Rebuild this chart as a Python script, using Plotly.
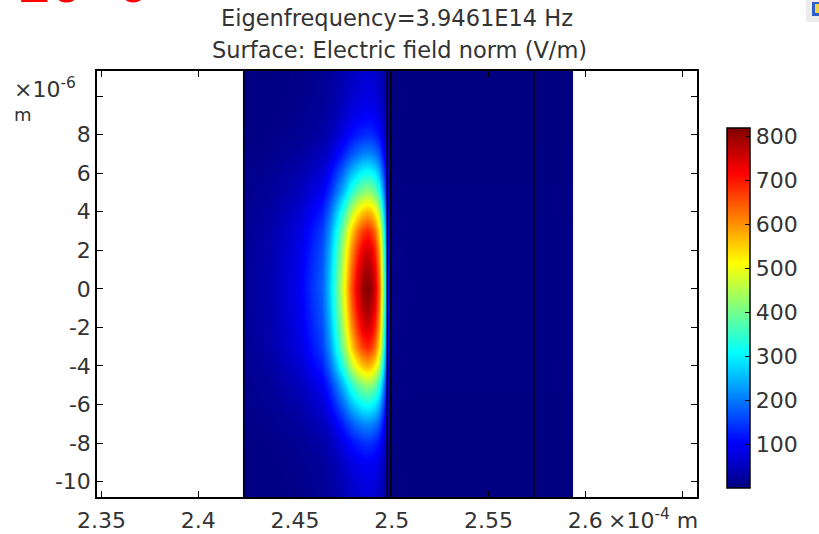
import plotly.graph_objects as go
import numpy as np

# ---- data ----
# electric field norm along x at y = 0 (x in units of 1e-4 m, E in V/m)
x_pos = [2.4233, 2.4236, 2.4368, 2.4522, 2.4641, 2.4677, 2.4713, 2.4744, 2.4764,
         2.4790, 2.4816, 2.4847, 2.4873, 2.4893, 2.4913, 2.4934, 2.4949, 2.4965,
         2.4981, 2.4991, 2.5100, 2.5932, 2.5935]
e_x = [16, 18, 38, 90, 180, 260, 370, 470, 550,
       650, 725, 795, 820, 800, 745, 640, 480, 300,
       120, 8, 6, 6, 6]
# relative field profile along y (y in units of 1e-6 m)
y_pos = [-10.8, -10, -9, -8, -7, -6, -5, -4, -3, -2, -1, 0,
         1, 2, 3, 4, 5, 6, 7, 8, 9, 10, 11.3]
rel_y = [0.085, 0.095, 0.12, 0.17, 0.26, 0.39, 0.52, 0.70, 0.84, 0.92, 0.97, 1.0,
         0.97, 0.92, 0.84, 0.70, 0.52, 0.39, 0.26, 0.17, 0.12, 0.095, 0.08]
# domain boundaries (x in 1e-4 m)
boundaries = [2.4235, 2.4977, 2.4995, 2.5734]

x_ticks = [2.35, 2.4, 2.45, 2.5, 2.55, 2.6, 2.65]
x_ticktext = ["2.35", "2.4", "2.45", "2.5", "2.55", "2.6", " "]
y_ticks = [-10, -8, -6, -4, -2, 0, 2, 4, 6, 8, 10]
y_ticktext = ["-10", "-8", "-6", "-4", "-2", "0", "2", "4", "6", "8", " "]
cb_ticks = [100, 200, 300, 400, 500, 600, 700, 800]

title1 = "Eigenfrequency=3.9461E14 Hz"
title2 = "Surface: Electric field norm (V/m)"

z = np.outer(np.array(rel_y), np.array(e_x))

jet = [[0.0, "rgb(0,0,128)"], [0.125, "rgb(0,0,255)"], [0.375, "rgb(0,255,255)"],
       [0.625, "rgb(255,255,0)"], [0.875, "rgb(255,0,0)"], [1.0, "rgb(128,0,0)"]]

FONT = "DejaVu Sans"
TXT = "#333333"
W, H = 819, 534
L, R, T, B = 97, 122, 71, 37
PW, PH = W - L - R, H - T - B

def px(xp):
    return (xp - L) / PW

def py(yp):
    return (H - B - yp) / PH

fig = go.Figure()
fig.add_trace(go.Heatmap(
    x=x_pos, y=y_pos, z=z, zsmooth="best", colorscale=jet, zmin=0, zmax=820,
    colorbar=dict(
        x=px(727), xanchor="left", thickness=23, thicknessmode="pixels",
        len=360, lenmode="pixels", y=py(308), yanchor="middle",
        outlinewidth=1.5, outlinecolor="black", xpad=0, ypad=0,
        tickvals=cb_ticks, ticks="inside", ticklen=5, tickcolor="black",
        tickprefix="\u2009",
        tickfont=dict(family=FONT, size=22, color=TXT),
    ),
    hoverinfo="skip",
))

for bx in boundaries:
    fig.add_trace(go.Scatter(x=[bx, bx], y=[-10.8, 11.3], mode="lines",
                             line=dict(color="black", width=1.5),
                             showlegend=False, hoverinfo="skip"))

axis_common = dict(showline=True, linecolor="black", linewidth=1.5, mirror="ticks",
                   ticks="inside", ticklen=6, tickcolor="black", showgrid=False,
                   zeroline=False, automargin=False,
                   tickfont=dict(family=FONT, size=22, color=TXT))
fig.update_xaxes(range=[2.3477, 2.6577], tickvals=x_ticks, ticktext=x_ticktext,
                 ticklabelstandoff=3, **axis_common)
fig.update_yaxes(range=[-10.8, 11.3], tickvals=y_ticks, ticktext=y_ticktext,
                 **axis_common)

ann = [
    dict(text=title1, x=px(397), y=py(18), xref="paper", yref="paper",
         xanchor="center", yanchor="middle", showarrow=False,
         font=dict(family=FONT, size=22.5, color=TXT)),
    dict(text=title2, x=px(399), y=py(50), xref="paper", yref="paper",
         xanchor="center", yanchor="middle", showarrow=False,
         font=dict(family=FONT, size=22.5, color=TXT)),
    dict(text="×10<sup>-6</sup>", x=px(12), y=py(88), xref="paper", yref="paper",
         xanchor="left", yanchor="middle", showarrow=False,
         font=dict(family=FONT, size=22, color=TXT)),
    dict(text="m", x=px(12), y=py(114), xref="paper", yref="paper",
         xanchor="left", yanchor="middle", showarrow=False,
         font=dict(family=FONT, size=18, color=TXT)),
    dict(text="×10<sup>-4</sup> m", x=px(606), y=py(519), xref="paper", yref="paper",
         xanchor="left", yanchor="middle", showarrow=False,
         font=dict(family=FONT, size=22, color=TXT)),
    dict(text="10-6", x=px(15), y=py(-13), xref="paper", yref="paper",
         xanchor="left", yanchor="middle", showarrow=False,
         font=dict(family="Liberation Mono", size=55, color="red")),
]

shapes = [
    dict(type="rect", xref="paper", yref="paper", x0=px(806), x1=px(820),
         y0=py(22), y1=py(-2), fillcolor="#ececec", line=dict(width=0), layer="above"),
    dict(type="rect", xref="paper", yref="paper", x0=px(812), x1=px(820),
         y0=py(16), y1=py(2), fillcolor="#2c5fc9", line=dict(width=0), layer="above"),
    dict(type="rect", xref="paper", yref="paper", x0=px(815), x1=px(820),
         y0=py(13), y1=py(4), fillcolor="#f2d23a", line=dict(width=0), layer="above"),
]

fig.update_layout(width=W, height=H, margin=dict(l=L, r=R, t=T, b=B, autoexpand=False),
                  paper_bgcolor="white", plot_bgcolor="white",
                  showlegend=False, annotations=ann, shapes=shapes)
fig.write_html("out.html")
